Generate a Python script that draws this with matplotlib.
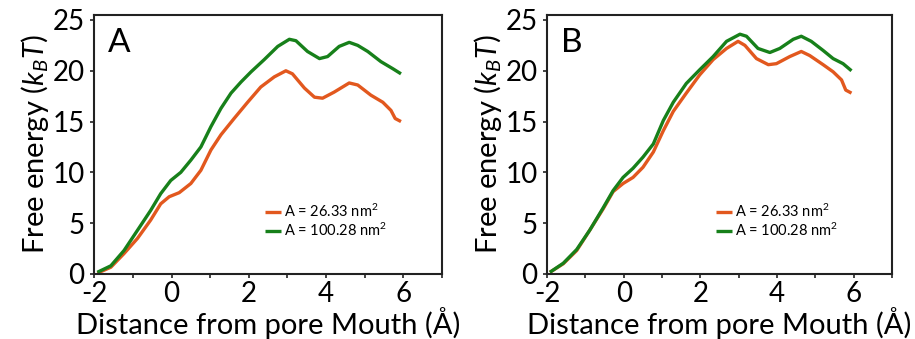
import matplotlib
matplotlib.use("Agg")
import matplotlib.pyplot as plt

plt.rcParams['font.family'] = ['Lato', 'DejaVu Sans']
plt.rcParams['mathtext.fontset'] = 'custom'
plt.rcParams['mathtext.rm'] = 'Lato'
plt.rcParams['mathtext.it'] = 'Lato:italic'
plt.rcParams['axes.unicode_minus'] = False

# panel A
xA_small = [-1.92, -1.57, -1.23, -0.88, -0.54, -0.28, -0.06, 0.2, 0.5, 0.76, 1.02, 1.28,
            1.62, 1.97, 2.31, 2.66, 2.96, 3.13, 3.44, 3.7, 3.91, 4.21, 4.6, 4.82,
            5.16, 5.47, 5.68, 5.79, 5.94]
yA_small = [0.07, 0.66, 2.0, 3.5, 5.3, 6.9, 7.6, 8.0, 8.9, 10.2, 12.2, 13.7,
            15.3, 16.9, 18.4, 19.4, 20.0, 19.7, 18.3, 17.4, 17.3, 17.9, 18.8, 18.6,
            17.6, 16.9, 16.1, 15.3, 15.0]
xA_big = [-1.92, -1.57, -1.23, -0.88, -0.54, -0.28, -0.02, 0.24, 0.5, 0.76, 1.02, 1.28,
          1.54, 1.8, 2.06, 2.4, 2.75, 3.05, 3.22, 3.52, 3.83, 4.04, 4.34, 4.6,
          4.82, 5.08, 5.42, 5.73, 5.94]
yA_big = [0.16, 0.8, 2.3, 4.3, 6.25, 7.9, 9.2, 10.0, 11.2, 12.5, 14.5, 16.3,
          17.8, 18.9, 19.9, 21.1, 22.4, 23.1, 22.96, 21.9, 21.2, 21.4, 22.4, 22.8,
          22.5, 21.9, 20.9, 20.2, 19.7]

# panel B
xB_small = [-1.93, -1.58, -1.23, -0.89, -0.54, -0.28, -0.02, 0.24, 0.5, 0.77, 1.03, 1.29,
            1.63, 1.98, 2.33, 2.68, 2.98, 3.16, 3.46, 3.77, 3.98, 4.33, 4.63, 4.85,
            5.2, 5.46, 5.68, 5.79, 5.94]
yB_small = [0.16, 1.0, 2.3, 4.3, 6.4, 8.1, 8.9, 9.5, 10.5, 12.0, 14.1, 16.0,
            17.8, 19.6, 21.1, 22.2, 22.9, 22.5, 21.2, 20.6, 20.7, 21.4, 21.9, 21.5,
            20.6, 19.9, 19.1, 18.1, 17.8]
xB_big = [-1.93, -1.58, -1.23, -0.89, -0.54, -0.28, -0.02, 0.24, 0.5, 0.77, 1.03, 1.29,
          1.63, 1.98, 2.33, 2.68, 3.03, 3.2, 3.5, 3.81, 4.07, 4.42, 4.63, 4.89,
          5.2, 5.46, 5.72, 5.94]
yB_big = [0.16, 1.05, 2.4, 4.3, 6.5, 8.2, 9.5, 10.4, 11.5, 12.8, 15.1, 16.9,
          18.75, 20.1, 21.4, 22.9, 23.6, 23.4, 22.2, 21.8, 22.2, 23.1, 23.4, 22.9,
          22.0, 21.2, 20.7, 20.0]

labels = ["A = 26.33 nm$^2$", "A = 100.28 nm$^2$"]
colors = ["#e2581e", "#17801a"]

fig = plt.figure(figsize=(9.15, 3.39), dpi=100)
axA = fig.add_axes([0.103, 0.192, 0.380, 0.764])
axB = fig.add_axes([0.598, 0.192, 0.377, 0.764])

panels = [(axA, "A", xA_small, yA_small, xA_big, yA_big),
          (axB, "B", xB_small, yB_small, xB_big, yB_big)]

for ax, name, xs, ys, xb, yb in panels:
    ax.plot(xs, ys, color=colors[0], lw=2.4, label=labels[0], solid_capstyle='butt')
    ax.plot(xb, yb, color=colors[1], lw=2.4, label=labels[1], solid_capstyle='butt')
    ax.set_xlim(-2, 7)
    ax.set_ylim(0, 25.5)
    ax.set_xticks([-2, 0, 2, 4, 6])
    ax.set_xticks([-1, 1, 3, 5, 7], minor=True)
    ax.set_yticks([0, 5, 10, 15, 20, 25])
    ax.tick_params(labelsize=20, length=3, width=1.2, color="#222222")
    ax.tick_params(axis='x', pad=2)
    ax.tick_params(axis='y', pad=4)
    ax.tick_params(which='minor', length=3, width=1.2, color="#222222")
    for s in ax.spines.values():
        s.set_linewidth(1.5)
        s.set_color("#222222")
    # label sits right at the bottom edge, like the original
    ax.set_xlabel("Distance from pore Mouth (Å)", fontsize=21)
    ax.xaxis.set_label_coords(0.5, -0.25)
    ax.xaxis.label.set_va('bottom')
    ax.set_ylabel("Free energy ($k_B$$T$)", fontsize=21, labelpad=1)
    ax.text(0.04, 0.89, name, transform=ax.transAxes, fontsize=24, va='center')
    ax.legend(loc='center left', bbox_to_anchor=(0.49, 0.205), frameon=False,
              fontsize=10.5, handlelength=1.1, handletextpad=0.2,
              labelspacing=0.15, borderaxespad=0, borderpad=0)

fig.savefig("out.png", dpi=100)
